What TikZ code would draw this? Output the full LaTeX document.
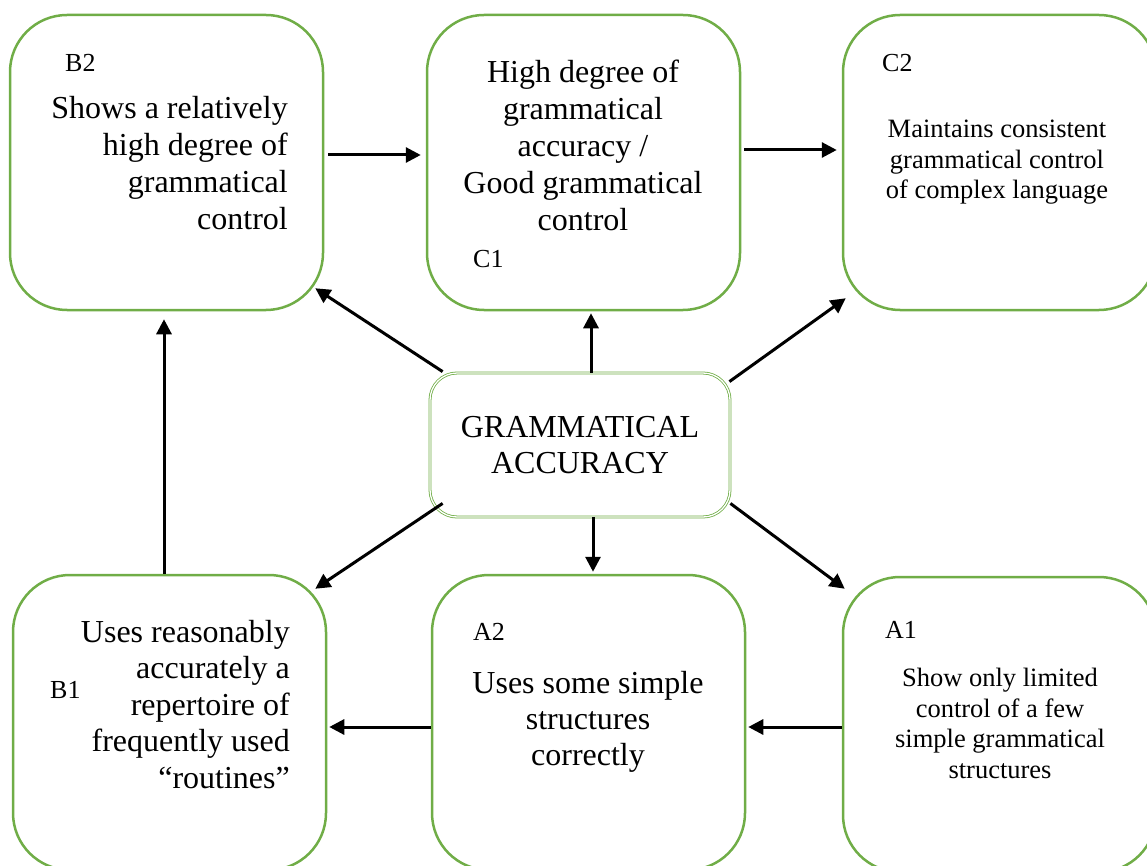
\documentclass[tikz,border=0pt]{standalone}
\usepackage{fontspec}
\setmainfont{Liberation Serif}
\usetikzlibrary{arrows.meta}
\definecolor{leafgreen}{HTML}{70AD47}
\tikzset{
  levelbox/.style={draw=leafgreen, line width=2.5pt, rounded corners=57pt,
    minimum width=313pt, minimum height=295pt, inner sep=0pt},
  hubbox/.style={draw=leafgreen, line width=0.8pt, double=white, double distance=1.3pt,
    rounded corners=27pt, minimum width=300pt, minimum height=144pt, inner sep=0pt},
  bigtext/.style={inner sep=0pt, font=\fontsize{32}{37}\selectfont},
  smalltext/.style={inner sep=0pt, font=\fontsize{26.5}{30.5}\selectfont},
  tag/.style={inner sep=0pt, anchor=base west, font=\fontsize{26}{30}\selectfont},
  flow/.style={line width=3pt, -{Triangle[length=15pt,width=15pt]}}
}
\begin{document}
\begin{tikzpicture}[x=1pt, y=-1pt]
\useasboundingbox (0,0) rectangle (1147,866);
\clip (0,0) rectangle (1147,866);

% level boxes
\node[levelbox] (b2) at (166.5,162.5) {};
\node[levelbox] (c1) at (583.5,162.5) {};
\node[levelbox] (c2) at (999.5,162.5) {};
\node[levelbox] (b1) at (169.5,722.5) {};
\node[levelbox] (a2) at (588.5,722.5) {};
\node[levelbox] (a1) at (999.5,724.5) {};

% central box
\node[hubbox] (ga) at (580,445) {};
\node[bigtext, anchor=north, align=center, font=\fontsize{32}{36}\selectfont]
  (gatext) at (580,416) {GRAMMATICAL\\ACCURACY};

% B2
\node[tag] (b2tag) at (65,72) {B2};
\node[bigtext, anchor=north east, align=right] (b2text) at (288,96)
  {Shows a relatively\\high degree of\\grammatical\\control};

% C1
\node[bigtext, anchor=north, align=center] (c1text) at (583,60)
  {High degree of\\grammatical\\accuracy /\\Good grammatical\\control};
\node[tag] (c1tag) at (473,268) {C1};

% C2
\node[tag] (c2tag) at (882,72) {C2};
\node[smalltext, anchor=north, align=center] (c2text) at (997,120)
  {Maintains consistent\\grammatical control\\of complex language};

% B1
\node[tag] (b1tag) at (50,698) {B1};
\node[bigtext, anchor=north east, align=right, font=\fontsize{32}{36.5}\selectfont]
  (b1text) at (290,620)
  {Uses reasonably\\accurately a\\repertoire of\\frequently used\\“routines”};

% A2
\node[tag] (a2tag) at (473,640) {A2};
\node[bigtext, anchor=north, align=center, font=\fontsize{32}{36}\selectfont]
  (a2text) at (588,671) {Uses some simple\\structures\\correctly};

% A1
\node[tag] (a1tag) at (885,638) {A1};
\node[smalltext, anchor=north, align=center] (a1text) at (1000,668)
  {Show only limited\\control of a few\\simple grammatical\\structures};

% progression between levels
\draw[flow] ([shift={(4,-7.5)}]b2.east) -- ([shift={(-5,-7.5)}]c1.west);
\draw[flow] ([shift={(3,-12.5)}]c1.east) -- ([shift={(-5,-12.5)}]c2.west);
\draw[flow] ([shift={(-5.5,0)}]b1.north) -- ([shift={(-2.5,8)}]b2.south);
\draw[flow] ([shift={(0,4.5)}]a2.west) -- ([shift={(2,4.5)}]b1.east);
\draw[flow] ([shift={(0,2.5)}]a1.west) -- ([shift={(2,4.5)}]a2.east);

% spokes from the central box
\draw[flow] ([shift={(13,-1)}]ga.north west) -- ([shift={(-9,-23)}]b2.south east);
\draw[flow] ([shift={(11,0)}]ga.north) -- ([shift={(7.5,2)}]c1.south);
\draw[flow] ([shift={(-1,9)}]ga.north east) -- ([shift={(4,-13)}]c2.south west);
\draw[flow] ([shift={(13,-14)}]ga.south west) -- ([shift={(-12,15)}]b1.north east);
\draw[flow] ([shift={(13,0)}]ga.south) -- ([shift={(4.5,-2)}]a2.north);
\draw[flow] ([shift={(0,-14)}]ga.south east) -- ([shift={(3,13)}]a1.north west);
\end{tikzpicture}
\end{document}
